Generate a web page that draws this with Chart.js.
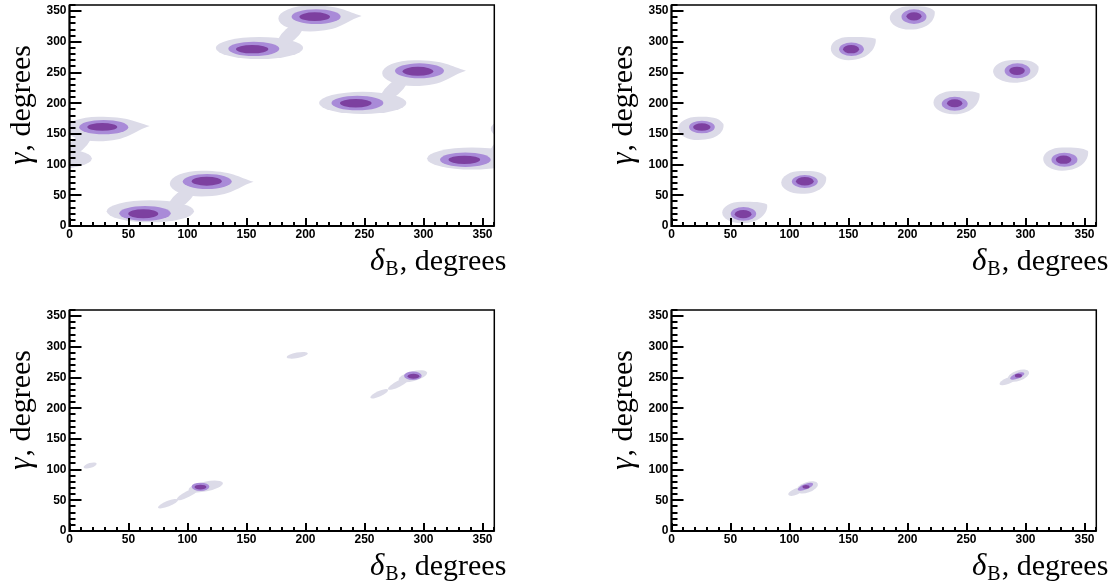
<!DOCTYPE html>
<html>
<head>
<meta charset="utf-8">
<script src="https://cdn.jsdelivr.net/npm/chart.js@4.4.1/dist/chart.umd.min.js"></script>
<style>
  html, body { margin: 0; padding: 0; background: #fff; }
  body { width: 1116px; height: 588px; position: relative; overflow: hidden; }
  .panel { position: absolute; width: 514px; height: 283px; }
</style>
</head>
<body>
<div class="panel" style="left:0;top:0"><canvas id="c1" width="514" height="283"></canvas></div>
<div class="panel" style="left:602px;top:0"><canvas id="c2" width="514" height="283"></canvas></div>
<div class="panel" style="left:0;top:305px"><canvas id="c3" width="514" height="283"></canvas></div>
<div class="panel" style="left:602px;top:305px"><canvas id="c4" width="514" height="283"></canvas></div>
<script>
// axes
const deltaTicks = [0, 50, 100, 150, 200, 250, 300, 350];
const gammaTicks = [0, 50, 100, 150, 200, 250, 300, 350];
const axisMin = 0, axisMax = 360, minorStep = 10;

// contour pieces, all in degrees
// oval: [delta, gamma, half-width delta, half-width gamma]
// egg: [delta, gamma, half-width delta, half-width gamma, tip delta, tip gamma]
// streak: [delta1, gamma1, delta2, gamma2, half-thickness gamma]

// top left
const p1Dark = [
  [62.5, 19.9, 12.7, 7.3], [116.3, 73.0, 12.7, 7.3], [154.8, 288.0, 13.7, 6.8], [207.8, 341.0, 13.0, 7.0],
  [242.6, 200.0, 13.4, 6.8], [295.3, 252.0, 13.0, 7.3], [334.6, 107.8, 13.4, 6.8], [27.8, 161.3, 12.7, 6.3]
];
const p1Mid = [
  [64.0, 20.6, 21.8, 12.0], [116.7, 72.5, 20.8, 12.2], [156.2, 288.6, 21.6, 11.7], [209.0, 341.0, 20.8, 12.0],
  [244.0, 200.3, 22.0, 11.8], [296.6, 252.8, 20.8, 12.2], [335.5, 108.0, 21.5, 11.7], [29.0, 161.0, 20.8, 11.7]
];
const p1LightOval = [[68.5, 24, 37, 18], [161, 290, 37, 18], [248.5, 200.5, 37, 18], [341, 110, 38, 18]];
const p1LightEgg = [
  [112, 69, 27, 21, 156, 72], [204, 338, 27, 21, 247.6, 342],
  [292, 249, 27, 21, 336, 253], [24, 158, 27, 20, 68, 163]
];
// necks joining each pair (the last one runs across 360)
const p1LightNeck = [
  [84, 28, 106, 62, 11], [176.5, 294, 198, 331, 11],
  [264, 204.5, 286, 242, 11], [356.5, 114, 378, 151, 11]
];

// top right
const p2Dark = [
  [25.7, 161.2, 7.4, 6.0], [60.7, 19.3, 7.1, 6.8], [113.0, 73.0, 7.5, 7.0], [152.2, 288.0, 6.8, 6.8],
  [205.5, 341.5, 6.4, 6.7], [240.0, 200.0, 6.5, 6.5], [292.8, 252.8, 6.6, 6.8], [332.3, 108.0, 6.6, 6.8]
];
const p2Mid = [
  [25.8, 161.2, 10.9, 10.3], [61.0, 19.9, 10.8, 11.2], [113.0, 72.5, 11.0, 10.5], [152.5, 288.0, 10.5, 11.0],
  [205.5, 341.0, 10.6, 12.0], [240.0, 199.0, 11.0, 11.4], [293.2, 252.8, 10.9, 12.2], [333.0, 108.0, 11.0, 11.4]
];
const p2LightEgg = [
  [22.6, 159, 17, 19, 44, 166], [59, 22, 16, 17.5, 81, 35], [110, 71, 17, 18.5, 131, 80],
  [150, 289, 15, 19, 173, 305], [202, 339, 17, 19, 223, 350], [239, 201, 17, 19, 261, 216],
  [290, 252, 17.5, 18.5, 311, 260], [331, 109, 16, 19, 353, 122]
];

// bottom left
const p3Dark = [[111, 71.5, 5, 4], [291.5, 252, 5, 4]];
const p3Mid = [[111, 72, 7.5, 6.8], [291, 253, 7.5, 7]];
const p3LightStreak = [
  [101, 67, 130, 78, 8], [91, 51, 110, 70, 5], [75, 38, 92, 51, 4.5],
  [279, 246, 303, 258, 8], [270, 231, 288, 249, 5], [255, 217, 270, 230, 4.5],
  [184, 283, 202, 289.5, 4.5], [12, 103.5, 23, 110, 4]
];

// bottom right
const p4Dark = [[114, 72, 3, 3], [294, 253, 3, 3]];
const p4MidStreak = [[107, 67, 120, 77, 4.5], [287, 248, 299, 257, 4.5]];
const p4LightStreak = [
  [106, 65, 124, 77, 8.5], [99, 59, 112, 69, 5],
  [285, 247, 303, 259, 8.5], [278, 239, 292, 250, 5]
];

const colors = { light: '#dcdbe8', mid: '#a98bd8', dark: '#7d40a0' };

function spanPx(scale, v, r) {
  return Math.abs(scale.getPixelForValue(v + r) - scale.getPixelForValue(v));
}

function drawOval(ctx, xs, ys, s, shift) {
  const cx = xs.getPixelForValue(s[0] + shift), cy = ys.getPixelForValue(s[1]);
  ctx.beginPath();
  ctx.ellipse(cx, cy, spanPx(xs, s[0], s[2]), spanPx(ys, s[1], s[3]), 0, 0, Math.PI * 2);
  ctx.fill();
}

function drawEgg(ctx, xs, ys, s, shift, full) {
  const cx = xs.getPixelForValue(s[0] + shift), cy = ys.getPixelForValue(s[1]);
  const rx = spanPx(xs, s[0], s[2]), ry = spanPx(ys, s[1], s[3]);
  const tx = xs.getPixelForValue(s[4] + shift), ty = ys.getPixelForValue(s[5]);
  const dx = tx - cx;
  ctx.beginPath();
  ctx.ellipse(cx, cy, rx, ry, 0, -Math.PI / 2, Math.PI / 2, true);
  if (full) {
    ctx.bezierCurveTo(cx + dx * 0.8, cy + ry, tx + dx * 0.05, ty + ry * 0.6, tx, ty);
    ctx.bezierCurveTo(tx - dx * 0.2, cy - ry, cx + dx * 0.5, cy - ry, cx, cy - ry);
  } else {
    ctx.bezierCurveTo(cx + dx * 0.6, cy + ry, tx - dx * 0.3, ty + ry * 0.35, tx, ty);
    ctx.bezierCurveTo(tx - dx * 0.3, ty - ry * 0.35, cx + dx * 0.6, cy - ry, cx, cy - ry);
  }
  ctx.closePath();
  ctx.fill();
}

function drawStreak(ctx, xs, ys, s, shift) {
  const x1 = xs.getPixelForValue(s[0] + shift), y1 = ys.getPixelForValue(s[1]);
  const x2 = xs.getPixelForValue(s[2] + shift), y2 = ys.getPixelForValue(s[3]);
  const a = Math.hypot(x2 - x1, y2 - y1) / 2;
  const b = spanPx(ys, 0, s[4]);
  ctx.beginPath();
  ctx.ellipse((x1 + x2) / 2, (y1 + y2) / 2, a, b, Math.atan2(y2 - y1, x2 - x1), 0, Math.PI * 2);
  ctx.fill();
}

// contours, frame, inner ticks and axis titles
function panelPlugin(layers) {
  return {
    id: 'contours',
    beforeDatasetsDraw(chart) {
      const { ctx, chartArea: a, scales: { x, y } } = chart;
      ctx.save();
      ctx.beginPath();
      ctx.rect(a.left, a.top, a.right - a.left, a.bottom - a.top);
      ctx.clip();
      layers.forEach(layer => {
        ctx.fillStyle = layer.color;
        // delta is periodic, so pieces wrap round the edges
        [0, -360, 360].forEach(shift => {
          (layer.ovals || []).forEach(s => drawOval(ctx, x, y, s, shift));
          (layer.eggs || []).forEach(s => drawEgg(ctx, x, y, s, shift, layer.fullEggs));
          (layer.streaks || []).forEach(s => drawStreak(ctx, x, y, s, shift));
        });
      });
      ctx.restore();
    },
    afterDraw(chart) {
      const { ctx, chartArea: a, scales: { x, y } } = chart;
      ctx.save();
      ctx.strokeStyle = '#000';
      ctx.lineWidth = 1.5;
      ctx.strokeRect(a.left, a.top, a.right - a.left, a.bottom - a.top);
      ctx.lineWidth = 2;
      ctx.beginPath();
      for (let v = axisMin; v <= axisMax; v += minorStep) {
        const py = Math.round(y.getPixelForValue(v));
        ctx.moveTo(a.left, py);
        ctx.lineTo(a.left + (gammaTicks.includes(v) ? 12 : 6), py);
        const px = Math.round(x.getPixelForValue(v));
        ctx.moveTo(px, a.bottom);
        ctx.lineTo(px, a.bottom - (deltaTicks.includes(v) ? 8 : 4));
      }
      ctx.stroke();
      ctx.beginPath();
      ctx.moveTo(a.left, a.top);
      ctx.lineTo(a.left, a.bottom);
      ctx.lineTo(a.right, a.bottom);
      ctx.stroke();

      // x title: delta_B, degrees
      const roman = '30px "Liberation Serif"';
      const ital = 'italic 31px "Liberation Serif"';
      const sub = '20px "Liberation Serif"';
      ctx.fillStyle = '#000';
      ctx.textBaseline = 'alphabetic';
      ctx.textAlign = 'left';
      const base = a.bottom + 44;
      const tail = ', degrees';
      ctx.font = roman;
      const wTail = ctx.measureText(tail).width;
      ctx.font = sub;
      const wB = ctx.measureText('B').width;
      ctx.font = ital;
      const wDelta = ctx.measureText('\u03b4').width;
      const xr = a.right + 12 - wTail;
      ctx.font = roman;
      ctx.fillText(tail, xr, base);
      ctx.font = sub;
      ctx.fillText('B', xr - wB - 1, base + 5);
      ctx.font = ital;
      ctx.fillText('\u03b4', xr - wB - 2 - wDelta, base);

      // y title: gamma, degrees
      ctx.translate(a.left - 40, a.top + 40);
      ctx.rotate(-Math.PI / 2);
      ctx.textAlign = 'right';
      ctx.font = roman;
      const wY = ctx.measureText(tail).width;
      ctx.fillText(tail, 0, 0);
      ctx.font = ital;
      ctx.fillText('\u03b3', -wY - 1, 0);
      ctx.restore();
    }
  };
}

const tickFont = { family: '"Liberation Sans", Arial, sans-serif', size: 12, weight: 'bold' };

function makePanel(id, layers, centers) {
  new Chart(document.getElementById(id), {
    type: 'scatter',
    data: {
      datasets: [{
        data: centers.map(c => ({ x: c[0], y: c[1] })),
        pointRadius: 0
      }]
    },
    options: {
      responsive: false,
      animation: false,
      layout: { padding: { top: 5, right: 19.7, left: 0, bottom: 0 } },
      plugins: { legend: { display: false }, tooltip: { enabled: false } },
      scales: {
        x: {
          type: 'linear', min: axisMin, max: axisMax,
          grid: { display: false, drawTicks: false },
          border: { display: false },
          afterBuildTicks: s => { s.ticks = deltaTicks.map(v => ({ value: v })); },
          afterFit: s => { s.height = 57; s.paddingLeft = 0; s.paddingRight = 0; },
          ticks: { font: tickFont, color: '#000', padding: 1, maxRotation: 0, autoSkip: false }
        },
        y: {
          type: 'linear', min: axisMin, max: axisMax,
          grid: { display: false, drawTicks: false },
          border: { display: false },
          afterBuildTicks: s => { s.ticks = gammaTicks.map(v => ({ value: v })); },
          afterFit: s => { s.width = 69.5; s.paddingTop = 0; s.paddingBottom = 0; },
          ticks: { font: tickFont, color: '#000', padding: 3, autoSkip: false }
        }
      }
    },
    plugins: [panelPlugin(layers)]
  });
}

makePanel('c1', [
  { color: colors.light, ovals: p1LightOval, eggs: p1LightEgg, streaks: p1LightNeck },
  { color: colors.mid, ovals: p1Mid },
  { color: colors.dark, ovals: p1Dark }
], p1Dark);

makePanel('c2', [
  { color: colors.light, eggs: p2LightEgg, fullEggs: true },
  { color: colors.mid, ovals: p2Mid },
  { color: colors.dark, ovals: p2Dark }
], p2Dark);

makePanel('c3', [
  { color: colors.light, streaks: p3LightStreak },
  { color: colors.mid, ovals: p3Mid },
  { color: colors.dark, ovals: p3Dark }
], p3Dark);

makePanel('c4', [
  { color: colors.light, streaks: p4LightStreak },
  { color: colors.mid, streaks: p4MidStreak },
  { color: colors.dark, ovals: p4Dark }
], p4Dark);
</script>
</body>
</html>
